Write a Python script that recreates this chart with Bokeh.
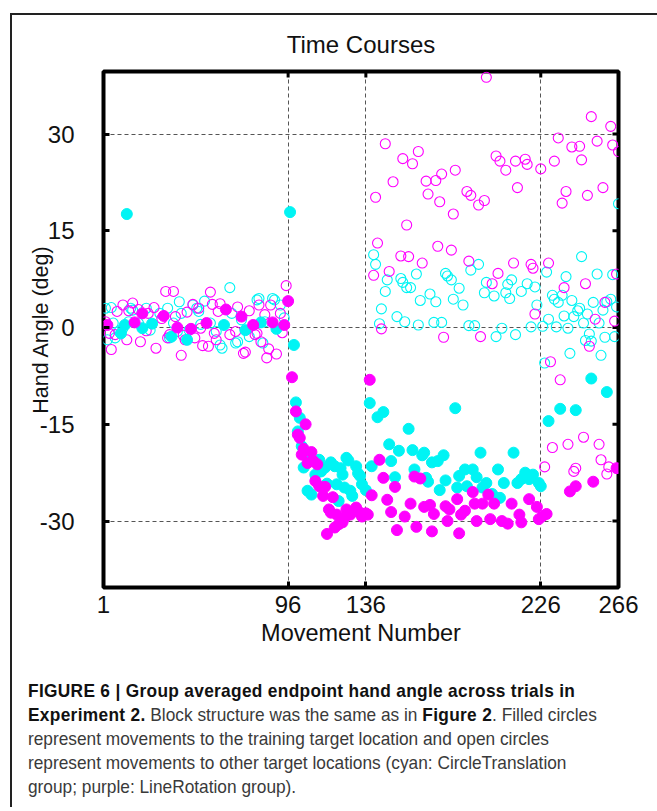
import math
from bokeh.plotting import figure
from bokeh.models import Range1d, FixedTicker, Div
from bokeh.layouts import column
from bokeh.embed import file_html
from bokeh.resources import INLINE

# ---------------- data ----------------
x_ticks = [1, 96, 136, 226, 266]
y_ticks = [-30, -15, 0, 15, 30]
x_grid = [96, 136, 226]
y_grid = [-30, 0, 30]
x_lo, x_hi = 1, 266
y_lo, y_hi = -40.3, 39.7

# LineRotation group (magenta) - filled: training target
mag_fill_t = [3, 17, 21, 32, 39, 46, 54, 64, 72, 78, 88, 94, 96,
              98, 100, 101, 102, 103, 104, 105, 106, 108, 109, 110, 111, 112, 114, 115, 116,
              117, 118, 119, 120, 121, 122, 124, 125, 126, 128, 130, 131, 133, 134, 135, 136,
              137, 138, 139, 143, 145, 147, 149, 151, 152, 156, 159, 161, 162, 164, 166, 169,
              170, 171, 177, 178, 179, 183, 184, 185, 187, 191, 192, 193, 196, 199, 200, 202,
              206, 209, 211, 215, 216, 220, 224, 225,
              227, 229, 241, 244, 253, 265]
mag_fill_y = [0.4, 0.8, 2.2, 1.8, 0.0, -0.2, 0.7, 2.8, 1.7, 0.4, 0.8, 0.4, 4.1,
              -7.7, -13.0, -16.6, -17.1, -19.7, -18.8, -15.0, -21.0, -19.3, -20.7, -23.8, -21.2, -24.6, -26.1, -24.7, -32.0,
              -28.2, -28.7, -26.3, -31.0, -29.0, -30.5, -30.2, -29.5, -28.2, -29.0, -28.4, -27.9, -28.7, -29.3, -29.0, -28.8,
              -29.0, -8.1, -26.0, -20.5, -23.3, -26.7, -28.6, -24.7, -31.4, -29.3, -27.3, -23.1, -30.9, -23.4, -27.8, -27.5,
              -31.6, -28.9, -27.7, -30.0, -28.2, -26.6, -31.9, -29.0, -28.4, -25.5, -27.3, -30.0, -27.3, -25.9, -29.7, -27.3,
              -30.0, -30.4, -27.3, -29.0, -30.2, -26.6, -27.8, -29.7,
              -29.2, -28.9, -25.4, -24.6, -23.9, -21.8]

# LineRotation group (magenta) - open: other targets
mag_open_t = [2, 4, 5, 7, 8, 11, 13, 14, 16, 19, 20, 23, 24, 27, 28, 31, 33, 34, 35, 37, 38,
              41, 42, 43, 44, 47, 48, 50, 51, 52, 55, 56, 57, 58, 59, 60, 61, 66, 69, 70, 73,
              74, 76, 79, 80, 81, 82, 84, 85, 86, 87, 90, 92, 93, 95,
              140, 141, 142, 144, 146, 148, 150, 154, 155, 157, 158, 160, 163, 165, 167, 168,
              172, 173, 174, 175, 176, 180, 181, 182, 188, 189, 190, 194, 195, 197, 198, 201,
              203, 204, 205, 208, 212, 213, 214, 218, 219, 221, 222, 223, 226,
              228, 230, 231, 232, 233, 235, 236, 237, 238, 239, 240, 242, 243, 244, 246, 247,
              248, 249, 250, 251, 252, 254, 255, 256, 257, 258, 259, 260, 261, 262, 263, 264,
              265, 266]
mag_open_y = [0.9, -0.9, -3.4, -1.1, 2.5, 3.5, -1.9, 2.6, 3.8, 2.8, -2.2, -0.5, 2.2, 3.1, -3.2, 1.4, 5.6, -1.6, -1.1, 5.6, 1.7,
              -4.3, -1.2, -1.9, 2.4, 3.6, -1.6, 3.0, -0.1, -2.8, -2.9, 5.5, 3.6, -0.9, -1.9, 2.5, 3.7, -1.1, -0.6, 3.2, -4.0,
              -3.8, 2.6, -1.1, -0.9, 3.5, -2.2, 2.0, -4.7, -3.3, 3.5, -4.1, 2.2, -0.8, 6.5,
              8.1, 20.2, 13.1, -0.2, 28.5, 8.7, 22.6, 11.1, 26.2, 15.9, 11.0, 25.4, 27.3, 10.0, 22.7, 20.7,
              22.8, 12.6, 19.5, 23.8, -1.5, 12.0, 17.6, 24.4, 21.1, 10.3, 20.5, 19.0, -1.4, 19.7, 38.8, 6.8,
              26.6, 8.4, 25.8, 24.4, 10.0, 25.8, 21.7, 26.1, 25.3, 9.8, 9.2, 2.1, 24.6,
              -21.6, 10.0, -5.3, -18.6, 25.8, 29.4, -8.1, 19.3, 6.2, 21.1, -18.1, 28.0, -22.3, -21.8, 28.1, 26.0,
              -17.0, 6.8, 20.5, -2.9, 32.7, 1.3, 28.9, -18.1, -20.5, 21.7, 3.9, -22.7, -21.6, 31.2, 28.3, 1.0,
              8.3, 27.3]

# CircleTranslation group (cyan) - filled: training target
cyan_fill_t = [10, 12, 13, 21, 26, 36, 44, 63, 74, 82, 90,
               97, 99, 100, 101, 102, 103, 104, 106, 107, 108, 110, 112, 113, 115, 116, 118, 120,
               121, 122, 123, 124, 125, 126, 127, 128, 129, 131, 132, 133, 134, 136,
               138, 139, 142, 145, 148, 149, 151, 153, 158, 160, 161, 165, 166, 167, 168, 170,
               173, 174, 176, 177, 182, 183, 184, 187, 188, 191, 193, 195, 196, 198, 201, 204,
               205, 207, 212, 214, 216, 218, 220, 222, 225, 226,
               230, 236, 244, 252, 260]
cyan_fill_y = [-0.9, 0.4, 17.6, -0.1, 0.6, -1.4, -1.9, 0.4, -0.4, 0.8, -0.2,
               17.9, -2.7, -11.6, -16.1, -14.0, -18.4, -21.7, -25.3, -20.2, -25.9, -22.8, -20.5, -22.3, -21.7, -24.2, -20.9, -21.5,
               -24.3, -26.9, -21.8, -22.8, -24.8, -20.2, -20.6, -25.3, -26.1, -21.5, -22.6, -23.0, -24.3, -25.2,
               -11.7, -21.5, -13.9, -13.1, -18.1, -20.7, -23.2, -19.1, -15.7, -19.0, -22.0, -19.8, -19.4, -23.3, -23.9, -20.9,
               -20.7, -25.2, -19.8, -23.7, -12.5, -24.8, -23.0, -22.0, -24.6, -22.0, -23.2, -19.4, -24.8, -24.1, -25.8, -22.0,
               -26.4, -24.1, -19.4, -24.1, -23.5, -22.5, -23.5, -22.8, -24.1, -24.6,
               -14.5, -12.6, -12.8, -7.9, -10.0]

# CircleTranslation group (cyan) - open: other targets
cyan_open_t = [2, 3, 5, 6, 7, 9, 11, 14, 15, 16, 19, 23, 25, 30, 34, 35, 37, 39, 40, 41, 45,
               47, 49, 50, 51, 53, 56, 59, 61, 62, 66, 67, 69, 70, 72, 76, 80, 81, 83, 84, 88,
               89, 92, 94,
               140, 141, 143, 144, 146, 147, 152, 154, 155, 156, 157, 159, 162, 163, 164, 169,
               171, 172, 175, 177, 178, 180, 181, 184, 186, 189, 190, 192, 194, 197, 198, 202,
               203, 206, 208, 209, 210, 211, 213, 216, 219, 221, 223, 224,
               227, 228, 229, 230, 232, 233, 234, 235, 237, 238, 239, 240, 241, 242, 243, 245,
               246, 247, 248, 249, 250, 251, 252, 253, 255, 256, 257, 258, 259, 260, 262, 263,
               264, 265, 266]
cyan_open_y = [3.0, -1.9, 3.1, 0.7, -1.6, -0.6, -0.1, 0.9, 3.0, 2.7, 0.7, 3.0, -0.4, 2.2, 3.0, -1.6, 0.7, -0.6, 4.0, 2.2, -0.4,
               3.5, 3.0, 2.5, 0.5, 4.1, 0.7, -0.6, -2.7, -3.2, 6.2, 2.2, -2.4, -2.2, 1.2, -1.4, 4.3, 4.5, -2.4, 0.9, 4.5,
               4.3, 3.5, 1.5,
               11.3, 9.8, 0.6, 2.9, 5.6, 7.4, 1.7, 7.6, 7.0, 0.9, 6.2, 6.2, 8.3, 0.4, 4.2, 5.2,
               0.8, 4.0, 0.8, 8.4, 8.0, 7.4, 4.4, 6.1, 3.5, 0.3, 8.9, 0.3, 9.8, 5.4, 7.0, 4.9,
               -1.4, -0.1, 5.4, 6.7, 4.5, 7.4, -1.1, 5.6, 6.8, 0.1, 6.3, 3.5,
               0.2, -5.5, 8.6, 1.3, 5.0, 4.4, 0.1, 3.9, 5.0, 1.8, 7.9, -0.1, -4.0, 4.2, 1.7, 2.6,
               3.0, 11.0, 0.7, -2.0, 2.1, -1.0, -2.1, 3.9, 8.3, 0.7, -4.3, 2.7, -1.5, 4.0, 4.4, 8.2,
               -1.4, 3.2, 19.2]

# ---------------- styling ----------------
CHART_FONT = "Liberation Sans"
MAGENTA = "#FF00FF"
CYAN = "#00F4F4"

p = figure(width=645, height=642,
           x_range=Range1d(x_lo, x_hi), y_range=Range1d(y_lo, y_hi),
           output_backend="svg", toolbar_location=None, tools="",
           min_border_left=91, min_border_right=39, min_border_top=55, min_border_bottom=70,
           title="Time Courses")

p.title.align = "center"
p.title.text_font = CHART_FONT
p.title.text_font_style = "normal"
p.title.text_font_size = "24px"
p.title.text_color = "#111111"
p.title.standoff = 27

p.outline_line_color = "black"
p.outline_line_width = 4
p.outline_line_alpha = 1.0
p.background_fill_color = "white"
p.border_fill_color = "white"

# grid: dashed lines at block boundaries and -30/0/30
p.xgrid.ticker = FixedTicker(ticks=x_grid)
p.ygrid.ticker = FixedTicker(ticks=y_grid)
for g in (p.xgrid, p.ygrid):
    g.grid_line_color = "#555555"
    g.grid_line_dash = "4 3"
    g.grid_line_width = 1

# main axes
p.xaxis.ticker = FixedTicker(ticks=x_ticks)
p.yaxis.ticker = FixedTicker(ticks=y_ticks)
p.yaxis.major_label_overrides = {t: str(t) for t in y_ticks}
p.xaxis.axis_label = "Movement Number"
p.yaxis.axis_label = "Hand Angle (deg)"
for ax in (p.xaxis, p.yaxis):
    ax.axis_line_color = None
    ax.major_tick_in = 6
    ax.major_tick_out = 0
    ax.major_tick_line_width = 3
    ax.major_tick_line_color = "black"
    ax.minor_tick_line_color = None
    ax.major_label_text_font = CHART_FONT
    ax.major_label_text_font_size = "24px"
    ax.major_label_text_color = "#111111"
    ax.axis_label_text_font = CHART_FONT
    ax.axis_label_text_font_style = "normal"
    ax.axis_label_text_color = "#111111"
p.xaxis.axis_label_text_font_size = "23.5px"
p.yaxis.axis_label_text_font_size = "21.5px"
p.xaxis.major_label_standoff = 8
p.xaxis.axis_label_standoff = 4
p.yaxis.major_label_standoff = 29
p.yaxis.axis_label_standoff = -16

# inward tick marks on the top and right edges of the box
p.scatter(x_ticks, [y_hi] * len(x_ticks), marker="dash", angle=math.pi / 2, size=12,
          line_color="black", line_width=3)
p.scatter([x_hi] * len(y_ticks), y_ticks, marker="dash", size=12,
          line_color="black", line_width=3)

# points
p.scatter(cyan_open_t, cyan_open_y, size=10, marker="circle",
          fill_color=None, line_color=CYAN, line_width=1.1)
p.scatter(mag_open_t, mag_open_y, size=10, marker="circle",
          fill_color=None, line_color=MAGENTA, line_width=1.1)
p.scatter(cyan_fill_t, cyan_fill_y, size=11, marker="circle",
          fill_color=CYAN, line_color=CYAN, line_width=1)
p.scatter(mag_fill_t, mag_fill_y, size=11, marker="circle",
          fill_color=MAGENTA, line_color=MAGENTA, line_width=1)

caption_html = (
    "<div style=\"padding:17px 0 0 11px;\">"
    "<div style=\"font-family:'Liberation Sans',sans-serif;font-size:19px;line-height:24px;"
    "color:#3a3a3a;white-space:nowrap;transform:scaleX(0.91);transform-origin:0 0;\">"
    "<b style='color:#111111;letter-spacing:0.35px'>FIGURE 6 | Group averaged endpoint hand angle across trials in</b><br>"
    "<b style='color:#111111;letter-spacing:0.35px'>Experiment 2.</b> Block structure was the same as in "
    "<b style='color:#111111;letter-spacing:0.35px'>Figure 2</b>. Filled circles<br>"
    "represent movements to the training target location and open circles<br>"
    "represent movements to other target locations (cyan: CircleTranslation<br>"
    "group; purple: LineRotation group)."
    "</div></div>"
)
caption = Div(text=caption_html, width=640, height=140)

layout = column(p, caption,
                styles={"border-left": "2px solid #222222", "border-top": "2px solid #222222",
                        "margin-left": "10px", "margin-top": "13px"})

open("out.html", "w").write(file_html(layout, INLINE))
